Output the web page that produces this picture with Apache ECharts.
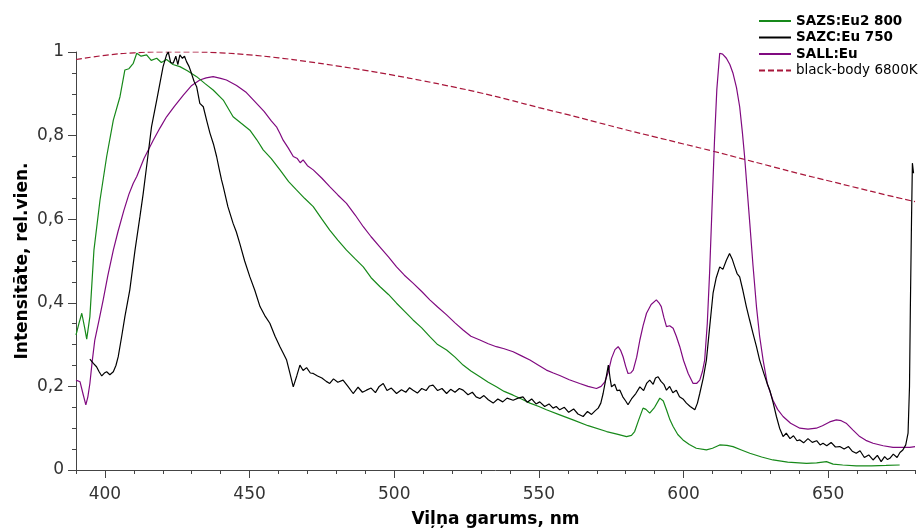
<!DOCTYPE html>
<html>
<head>
<meta charset="utf-8">
<script src="https://cdn.jsdelivr.net/npm/echarts@6/dist/echarts.min.js"></script>
<style>
html,body{margin:0;padding:0;background:#fff;}
#chart{width:920px;height:528px;}
</style>
</head>
<body>
<div id="chart"></div>
<script>
// ---- data (wavelength nm, relative intensity) ----
var seriesNames = ['SAZS:Eu2 800', 'SAZC:Eu 750', 'SALL:Eu', 'black-body 6800K'];
var xMajorTicks = [400, 450, 500, 550, 600, 650];
var yTicks = [0, 0.2, 0.4, 0.6, 0.8, 1];

var sazs = [[390,0.323],[391,0.35],[392,0.375],[393,0.34],[393.7,0.313],[394.8,0.367],[396.2,0.526],[398.3,0.646],[400.6,0.75],[402.9,0.837],[405.2,0.893],[406.9,0.957],[408.3,0.96],[409.8,0.973],[411,0.997],[412.5,0.99],[414.4,0.993],[416,0.98],[417.9,0.985],[419.5,0.975],[421.3,0.982],[423.5,0.97],[425.9,0.965],[428.5,0.955],[431.7,0.941],[434.5,0.925],[437.4,0.909],[440.9,0.885],[444.3,0.845],[447,0.83],[450.1,0.813],[452.5,0.79],[454.7,0.766],[457.5,0.745],[460.5,0.718],[463.5,0.69],[466.2,0.670],[469,0.65],[472,0.630],[475,0.60],[477.7,0.574],[480.5,0.55],[483.5,0.526],[486.5,0.505],[489.3,0.486],[492,0.46],[495,0.439],[498,0.42],[500.8,0.399],[503.5,0.38],[506.5,0.359],[509.5,0.34],[512.3,0.319],[515,0.30],[518.1,0.287],[521,0.27],[523.8,0.251],[526.5,0.237],[529.6,0.223],[532.5,0.21],[535.3,0.199],[538,0.188],[541.1,0.179],[544,0.17],[546.9,0.160],[550,0.152],[552.6,0.144],[557.2,0.132],[561.8,0.120],[567,0.106],[573.4,0.092],[577,0.086],[580.3,0.080],[582,0.083],[583.1,0.092],[584.5,0.12],[586,0.148],[587,0.145],[588.3,0.136],[590,0.15],[591.8,0.172],[593,0.165],[594.1,0.144],[595.3,0.12],[596.4,0.104],[598,0.085],[599.8,0.072],[602,0.061],[604.4,0.052],[607.9,0.048],[610,0.052],[612.5,0.060],[615,0.059],[617.1,0.056],[620,0.048],[622.9,0.040],[627,0.031],[630.9,0.024],[636,0.019],[642.5,0.016],[646,0.017],[649.4,0.020],[651.7,0.014],[655,0.012],[659.7,0.010],[665,0.01],[670,0.011],[674.7,0.012]];

var sazc = [[394.8,0.265],[396,0.255],[397.1,0.247],[398,0.235],[398.9,0.225],[399.8,0.232],[400.6,0.235],[401.7,0.228],[402.9,0.235],[403.8,0.25],[404.6,0.271],[405.8,0.32],[406.9,0.367],[408.6,0.431],[410.4,0.526],[412.1,0.606],[413.2,0.66],[414.4,0.726],[416.1,0.821],[417.9,0.885],[419,0.925],[420.1,0.965],[421.3,0.993],[421.9,1.0],[422.7,0.975],[423.6,0.973],[424.5,0.99],[425.2,0.97],[425.9,0.993],[426.8,0.985],[427.5,0.99],[428.2,0.977],[429.1,0.965],[429.9,0.949],[430.8,0.93],[431.7,0.917],[432.8,0.877],[434,0.869],[435.2,0.835],[436.3,0.806],[437.5,0.78],[438.6,0.75],[439.5,0.72],[440.3,0.694],[440.9,0.678],[442.5,0.63],[444.3,0.590],[445.4,0.57],[446.6,0.542],[448.3,0.50],[450.1,0.462],[451.8,0.43],[453.6,0.391],[455.2,0.37],[457,0.351],[458.8,0.32],[460.5,0.295],[461.6,0.28],[462.8,0.263],[464,0.23],[465.1,0.199],[466.3,0.225],[467.4,0.251],[468.5,0.238],[469.7,0.245],[471,0.232],[472,0.231],[473.5,0.225],[475,0.22],[476.5,0.212],[477.7,0.207],[479,0.218],[480.5,0.21],[482.3,0.215],[484,0.2],[485.8,0.183],[487.5,0.198],[489,0.186],[490.4,0.191],[492,0.196],[493.5,0.185],[494.8,0.2],[496.2,0.207],[497.5,0.19],[499,0.196],[500.8,0.183],[502.5,0.192],[504,0.186],[505.3,0.197],[506.5,0.191],[508,0.184],[509.5,0.195],[511,0.19],[512.2,0.201],[513.4,0.203],[515,0.19],[516.5,0.195],[518.1,0.183],[519.5,0.193],[521,0.186],[522.5,0.195],[523.8,0.191],[525.5,0.18],[527,0.186],[528.3,0.175],[529.6,0.171],[531,0.178],[532.5,0.168],[534.2,0.160],[535.8,0.17],[537.5,0.163],[539,0.172],[541.1,0.167],[542.8,0.172],[544.5,0.175],[546,0.162],[547.5,0.17],[549,0.158],[550.3,0.163],[552,0.152],[553.5,0.158],[554.9,0.148],[556,0.152],[557.2,0.144],[558.8,0.15],[560.3,0.138],[562,0.146],[563.5,0.134],[565.3,0.128],[566.8,0.14],[568.2,0.133],[569.5,0.142],[570.5,0.148],[571.4,0.16],[572.2,0.183],[573.2,0.22],[574,0.251],[574.6,0.22],[575.1,0.199],[576.2,0.205],[577,0.19],[578,0.191],[579,0.175],[580,0.165],[580.8,0.156],[582,0.17],[583.5,0.183],[584.9,0.199],[586.2,0.19],[587.3,0.208],[588.3,0.215],[589.5,0.205],[590.3,0.22],[591.2,0.223],[592.2,0.212],[593.2,0.205],[594.1,0.191],[595.2,0.2],[596.3,0.185],[597.5,0.191],[598.6,0.175],[599.8,0.17],[601,0.160],[602.3,0.152],[603.9,0.144],[604.8,0.16],[605.6,0.183],[606.8,0.22],[607.9,0.263],[609,0.34],[610.2,0.423],[611.3,0.46],[612.5,0.486],[613.6,0.48],[614.8,0.502],[615.9,0.518],[616.8,0.505],[617.7,0.486],[618.5,0.47],[619.4,0.462],[620.5,0.43],[621.7,0.391],[622.8,0.36],[624,0.327],[625.2,0.295],[626.3,0.263],[627.8,0.23],[629,0.205],[629.8,0.191],[631,0.16],[632.1,0.128],[633.2,0.1],[634.4,0.080],[635.5,0.088],[636.8,0.075],[638,0.082],[639.2,0.07],[640.2,0.072],[641.5,0.065],[643,0.075],[644.5,0.066],[646,0.07],[647.2,0.06],[648.2,0.064],[649.5,0.058],[651,0.066],[652.5,0.055],[654,0.056],[655.5,0.05],[657,0.056],[658.3,0.045],[659.7,0.040],[661,0.046],[662.5,0.03],[664,0.036],[665.5,0.024],[667,0.035],[668.3,0.02],[669.5,0.032],[670.5,0.025],[671.3,0.028],[672.5,0.038],[673.8,0.03],[674.8,0.042],[675.8,0.048],[676.8,0.06],[677.6,0.088],[678.1,0.2],[678.4,0.391],[678.8,0.6],[679.1,0.734],[679.5,0.71]];

var sall = [[390,0.215],[391.4,0.211],[392.5,0.18],[393.4,0.156],[394.1,0.175],[394.8,0.207],[395.6,0.26],[396.5,0.311],[398,0.36],[399.4,0.407],[401,0.465],[402.9,0.526],[404.5,0.57],[406.5,0.62],[408.3,0.66],[409.8,0.686],[411,0.702],[413.5,0.745],[416.7,0.789],[419,0.818],[421.3,0.845],[424,0.87],[427.1,0.897],[430,0.92],[432.8,0.933],[435,0.938],[437.4,0.941],[440,0.937],[442,0.933],[445.5,0.92],[448.9,0.903],[452,0.88],[455,0.858],[457.5,0.835],[459.3,0.821],[460.5,0.805],[461.6,0.789],[463.4,0.77],[465.1,0.75],[466.5,0.745],[467.5,0.735],[468.5,0.742],[470,0.728],[472,0.718],[475,0.698],[477.7,0.678],[480.5,0.658],[483.5,0.638],[486.5,0.61],[489.3,0.582],[492,0.558],[495,0.534],[498,0.51],[500.8,0.486],[503.5,0.466],[506.5,0.447],[509.5,0.427],[512.3,0.407],[515,0.39],[518.1,0.371],[521,0.352],[523.8,0.335],[526.5,0.32],[529.6,0.311],[532.5,0.302],[535.3,0.295],[538,0.29],[541.1,0.283],[544,0.273],[546.9,0.263],[550,0.25],[552.6,0.239],[555,0.232],[557.2,0.226],[560.5,0.216],[564.1,0.207],[567,0.2],[569.9,0.195],[571.5,0.2],[572.8,0.211],[574,0.235],[575.1,0.267],[576.3,0.288],[577.4,0.295],[578.2,0.287],[579.1,0.271],[580,0.248],[580.8,0.231],[581.7,0.232],[582.6,0.239],[583.8,0.27],[584.9,0.311],[586,0.345],[587.2,0.375],[588.8,0.396],[590.6,0.407],[591.5,0.4],[592.3,0.391],[593.2,0.365],[594.1,0.343],[595.2,0.345],[596.4,0.339],[597.5,0.32],[598.7,0.295],[600,0.262],[601.6,0.231],[603.3,0.207],[604.5,0.207],[605.6,0.215],[606.5,0.235],[607.3,0.263],[608.2,0.35],[609,0.471],[609.8,0.62],[610.7,0.789],[611.5,0.91],[612.5,0.997],[613.5,0.995],[614.8,0.985],[616,0.97],[617.1,0.949],[618.3,0.915],[619.4,0.869],[620.3,0.81],[621.1,0.75],[622,0.67],[622.9,0.590],[624,0.49],[625.2,0.391],[626.3,0.32],[627.5,0.263],[629,0.205],[630.9,0.167],[632.5,0.145],[634.4,0.128],[637,0.112],[640.2,0.100],[643,0.098],[645.9,0.100],[648,0.106],[650.5,0.115],[652.8,0.120],[654.5,0.118],[656.2,0.112],[658.5,0.096],[660.9,0.080],[663,0.071],[665.5,0.064],[669,0.058],[672.4,0.054],[676,0.054],[678.2,0.054],[680,0.056]];

var blackbody = [[390,0.982],[400,0.992],[410,0.998],[420,1.0],[430,1.0],[440,0.998],[450,0.993],[460,0.986],[470,0.977],[480,0.967],[490,0.956],[500,0.944],[510,0.931],[520,0.917],[530,0.902],[540,0.885],[550,0.867],[560,0.85],[570,0.832],[580,0.814],[590,0.797],[600,0.78],[610,0.763],[620,0.745],[630,0.727],[640,0.709],[650,0.692],[660,0.675],[670,0.658],[680,0.642]];

var colors = ['#17891a', '#000000', '#800a80', '#a8163a'];
var FONT = 'DejaVu Sans';

var chart = echarts.init(document.getElementById('chart'), null, {renderer: 'canvas'});
var minorX = [];
for (var v = 390; v <= 680; v += 10) minorX.push(v);

chart.setOption({
  animation: false,
  backgroundColor: '#ffffff',
  textStyle: {fontFamily: FONT},
  grid: {left: 76, right: 5, top: 52, bottom: 58, containLabel: false, outerBoundsMode: 'none'},
  legend: {
    orient: 'vertical',
    left: 753,
    top: 9,
    align: 'left',
    itemWidth: 32,
    itemHeight: 10,
    itemGap: 2.5,
    itemStyle: {opacity: 0, borderWidth: 0},
    textStyle: {fontFamily: FONT, fontSize: 13.5, color: '#000'},
    data: [
      {name: seriesNames[0], textStyle: {fontWeight: 'bold'}},
      {name: seriesNames[1], textStyle: {fontWeight: 'bold'}},
      {name: seriesNames[2], textStyle: {fontWeight: 'bold'}},
      {name: seriesNames[3], textStyle: {fontWeight: 'normal'}}
    ]
  },
  xAxis: [{
    type: 'value', min: 390, max: 680,
    name: 'Viļņa garums, nm', nameLocation: 'middle', nameGap: 41,
    nameTextStyle: {fontFamily: FONT, fontSize: 17, fontWeight: 'bold', color: '#000'},
    axisLine: {show: true, lineStyle: {color: '#444', width: 1}},
    axisTick: {show: true, inside: false, length: 8, customValues: xMajorTicks, lineStyle: {color: '#444'}},
    axisLabel: {show: true, customValues: xMajorTicks, margin: 16, fontSize: 17, color: '#333', fontFamily: FONT},
    splitLine: {show: false}
  }, {
    type: 'value', min: 390, max: 680, position: 'bottom', gridIndex: 0,
    axisLine: {show: false},
    axisTick: {show: true, inside: false, length: 4, customValues: minorX, lineStyle: {color: '#444'}},
    axisLabel: {show: false},
    splitLine: {show: false}
  }],
  yAxis: {
    type: 'value', min: 0, max: 1, interval: 0.2,
    name: 'Intensitāte, rel.vien.', nameLocation: 'middle', nameGap: 45, nameMoveOverlap: false,
    nameTextStyle: {fontFamily: FONT, fontSize: 17, fontWeight: 'bold', color: '#000'},
    axisLine: {show: true, lineStyle: {color: '#444', width: 1}},
    axisTick: {show: true, inside: false, length: 8, lineStyle: {color: '#444'}},
    minorTick: {show: true, splitNumber: 4, length: 4, lineStyle: {color: '#444'}},
    axisLabel: {
      margin: 12, fontSize: 17, color: '#333', fontFamily: FONT,
      formatter: function (val) { return String(Math.round(val * 10) / 10).replace('.', ','); }
    },
    splitLine: {show: false}
  },
  series: [
    {name: seriesNames[0], type: 'line', data: sazs, symbol: 'none', lineStyle: {color: colors[0], width: 1.2}, itemStyle: {color: colors[0]}, z: 3},
    {name: seriesNames[1], type: 'line', data: sazc, symbol: 'none', lineStyle: {color: colors[1], width: 1.2}, itemStyle: {color: colors[1]}, z: 4},
    {name: seriesNames[2], type: 'line', data: sall, symbol: 'none', lineStyle: {color: colors[2], width: 1.2}, itemStyle: {color: colors[2]}, z: 2},
    {name: seriesNames[3], type: 'line', data: blackbody, smooth: true, symbol: 'none', lineStyle: {color: colors[3], width: 1.2, type: [6, 3]}, itemStyle: {color: colors[3]}, z: 1}
  ]
});
</script>
</body>
</html>
